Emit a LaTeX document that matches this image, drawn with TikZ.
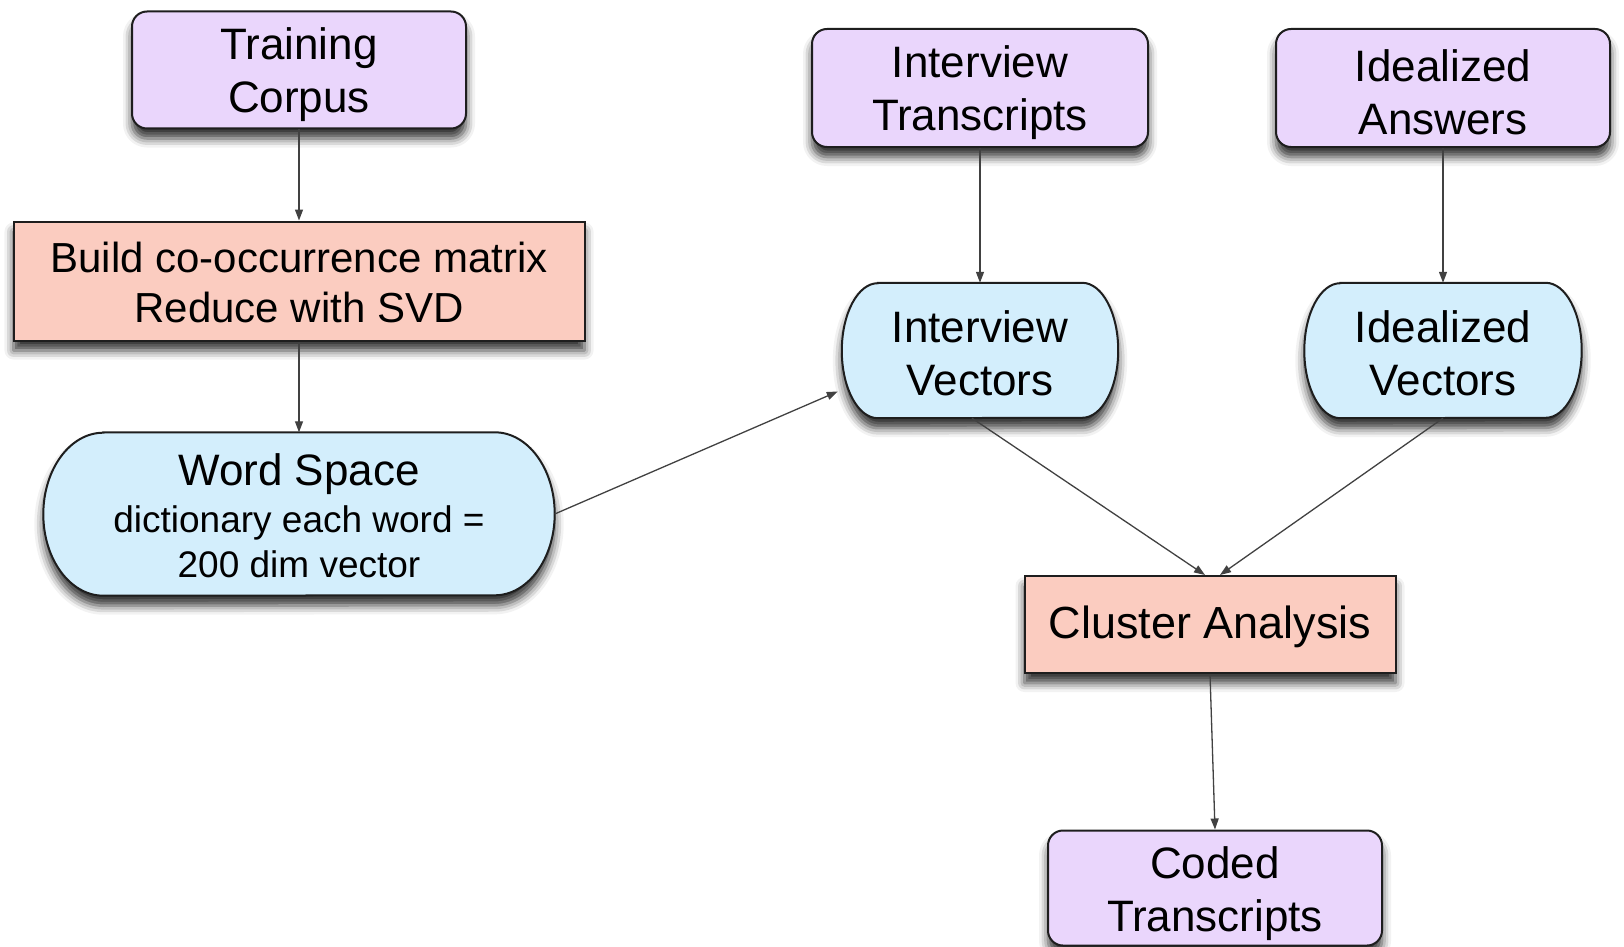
\documentclass[tikz,border=0pt]{standalone}
\usepackage{fontspec}
\setmainfont{Liberation Sans}
\usetikzlibrary{shadows.blur,arrows.meta}
\pgfdeclarelayer{bg}
\pgfsetlayers{bg,main}
\definecolor{lav}{RGB}{234,214,252}
\definecolor{salmon}{RGB}{251,204,192}
\definecolor{sky}{RGB}{211,238,252}
\definecolor{edgec}{RGB}{30,30,30}
\definecolor{connc}{RGB}{65,65,65}
\tikzset{
  shad/.style={blur shadow={shadow xshift=0pt, shadow yshift=-10pt, shadow blur radius=9pt, shadow opacity=80}},
  base/.style={align=center, inner sep=0pt, text=black},
  inbox/.style={base, draw=edgec, line width=2pt, fill=lav, rounded corners=15pt, shad},
  procbox/.style={base, draw=edgec, line width=2pt, fill=salmon, shad},
  outline/.style={draw=edgec, line width=2pt, fill=sky, shad},
  conn/.style={draw=connc, line width=1.3pt, -{Triangle[length=11pt,width=8pt]}},
  big/.style={font=\fontsize{44}{53}\selectfont},
}
\newcommand\upstrut[1]{\rule{0pt}{#1}}
\newcommand\pillpath[3]{%
  \path[outline] ([xshift=#2]#1.north west) -- ([xshift=-#2]#1.north east)
    arc[start angle=90, end angle=-90, x radius=#2, y radius=#3]
    -- ([xshift=#2]#1.south west)
    arc[start angle=270, end angle=90, x radius=#2, y radius=#3] -- cycle;}
\begin{document}
\begin{tikzpicture}[x=1pt,y=-1pt]
\useasboundingbox (0,0) rectangle (1624,947);
% nodes
\node[inbox, big, minimum width=334pt, minimum height=117pt] (tc) at (299,70) {\upstrut{41pt}Training\\Corpus};
\node[procbox, font=\fontsize{42}{50}\selectfont, minimum width=571pt, minimum height=119pt] (bm) at (299,281) {\upstrut{34pt}Build co-occurrence matrix\\Reduce with SVD};
\node[base, font=\fontsize{37}{45}\selectfont, minimum width=511pt, minimum height=163pt] (ws) at (299,514) {{\fontsize{44}{50}\selectfont\upstrut{36pt}Word Space}\\[2pt]dictionary each word =\\200 dim vector};
\node[inbox, big, minimum width=336pt, minimum height=118pt] (it) at (980,88) {\upstrut{41pt}Interview\\Transcripts};
\node[inbox, big, minimum width=334pt, minimum height=118pt] (ia) at (1443,88) {\upstrut{40pt}Idealized\\Answers};
\node[base, big, minimum width=276pt, minimum height=135pt] (iv) at (980,350.5) {\upstrut{38pt}Interview\\Vectors};
\node[base, big, minimum width=277pt, minimum height=135pt] (idv) at (1443,350.5) {\upstrut{38pt}Idealized\\Vectors};
\node[procbox, font=\fontsize{45}{53}\selectfont, minimum width=371pt, minimum height=97pt] (ca) at (1210,624.5) {\upstrut{38pt}Cluster Analysis};
\node[inbox, big, minimum width=334pt, minimum height=115pt] (ct) at (1215,888) {\upstrut{44pt}Coded\\Transcripts};
% custom shapes behind text
\begin{pgfonlayer}{bg}
\pillpath{ws}{60pt}{81.5pt}
\pillpath{iv}{36pt}{67.5pt}
\pillpath{idv}{36pt}{67.5pt}
\end{pgfonlayer}
% connectors
\draw[conn] (tc.south) -- (bm.north);
\draw[conn] (bm.south) -- (ws.north);
\draw[conn] (ws.east) -- ([yshift=-41pt,xshift=-4pt]iv.west);
\draw[conn] (it.south) -- (iv.north);
\draw[conn] (ia.south) -- (idv.north);
\draw[conn] ([xshift=-8pt]iv.south) -- ([xshift=-5pt]ca.north);
\draw[conn] (idv.south) -- ([xshift=10pt]ca.north);
\draw[conn] (ca.south) -- (ct.north);
\end{tikzpicture}
\end{document}
